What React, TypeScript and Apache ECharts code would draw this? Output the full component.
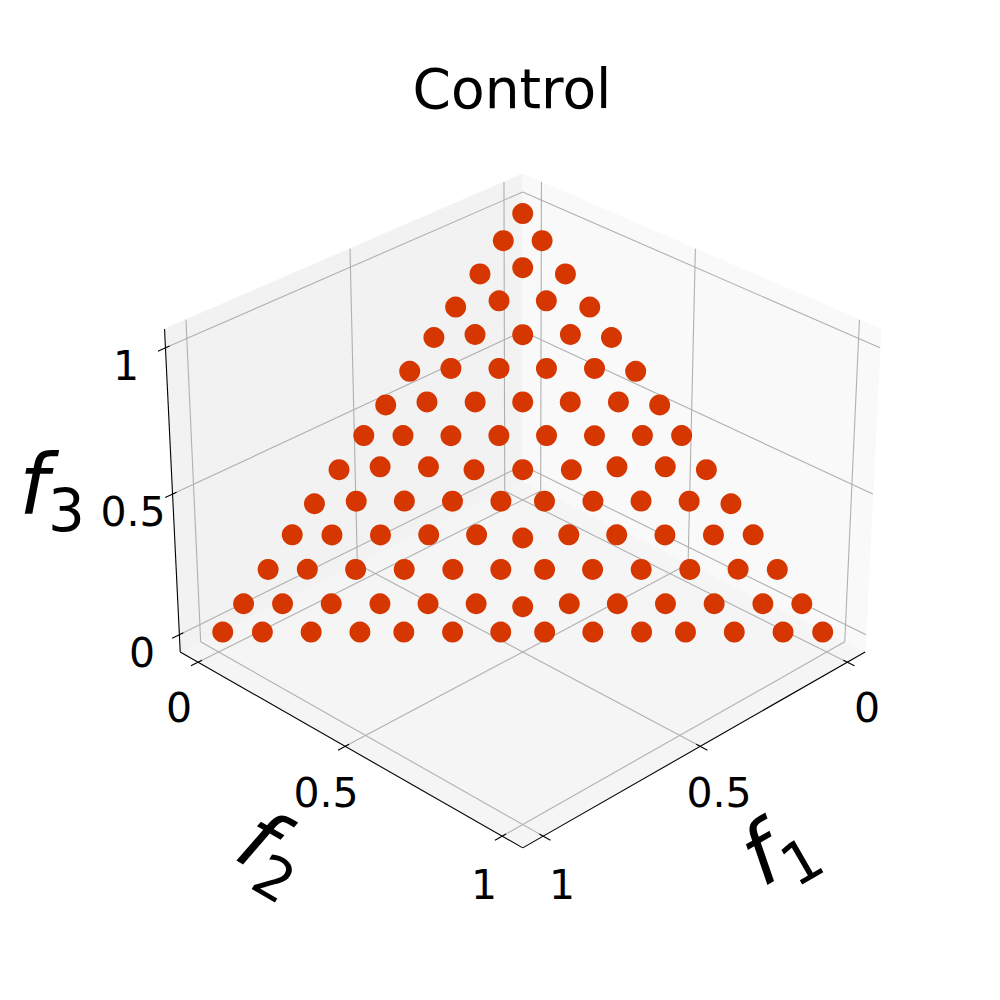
import React, { useEffect, useRef } from "react";
import * as echarts from "echarts";

const titleText = "Control";
const tickValues = [0, 0.5, 1];
const tickLabels = ["0", "0.5", "1"];

// Objective values of each point, one inner list per row of the front (bottom row first)
const f1Rows = [
  [0.989, 0.924, 0.844, 0.764, 0.692, 0.612, 0.533, 0.461, 0.382, 0.302, 0.23, 0.15, 0.07, 0.005],
  [0.923, 0.859, 0.779, 0.699, 0.62, 0.541, 0.468, 0.388, 0.309, 0.23, 0.15, 0.07, 0.006],
  [0.844, 0.779, 0.7, 0.62, 0.54, 0.461, 0.389, 0.31, 0.23, 0.15, 0.07, 0.006],
  [0.765, 0.7, 0.62, 0.54, 0.461, 0.389, 0.309, 0.23, 0.151, 0.071, 0.005],
  [0.693, 0.621, 0.541, 0.462, 0.382, 0.31, 0.23, 0.15, 0.071, 0.005],
  [0.613, 0.542, 0.462, 0.39, 0.309, 0.229, 0.15, 0.07, 0.005],
  [0.533, 0.468, 0.389, 0.309, 0.23, 0.151, 0.071, 0.006],
  [0.461, 0.389, 0.309, 0.23, 0.151, 0.071, 0.006],
  [0.382, 0.31, 0.23, 0.151, 0.071, 0.006],
  [0.302, 0.23, 0.151, 0.071, 0.006],
  [0.23, 0.15, 0.071, 0.006],
  [0.15, 0.071, 0.007],
  [0.071, 0.006],
  [0.006],
];
const f2Rows = [
  [0.005, 0.07, 0.15, 0.23, 0.302, 0.382, 0.461, 0.533, 0.612, 0.692, 0.764, 0.844, 0.924, 0.989],
  [0.006, 0.07, 0.15, 0.23, 0.309, 0.388, 0.468, 0.541, 0.62, 0.699, 0.779, 0.859, 0.923],
  [0.006, 0.07, 0.15, 0.23, 0.31, 0.389, 0.461, 0.54, 0.62, 0.7, 0.779, 0.844],
  [0.005, 0.071, 0.151, 0.23, 0.309, 0.389, 0.461, 0.54, 0.62, 0.7, 0.765],
  [0.005, 0.071, 0.15, 0.23, 0.31, 0.382, 0.462, 0.541, 0.621, 0.693],
  [0.005, 0.07, 0.15, 0.229, 0.309, 0.39, 0.462, 0.542, 0.613],
  [0.006, 0.071, 0.151, 0.23, 0.309, 0.389, 0.468, 0.533],
  [0.006, 0.071, 0.151, 0.23, 0.309, 0.389, 0.461],
  [0.006, 0.071, 0.151, 0.23, 0.31, 0.382],
  [0.006, 0.071, 0.151, 0.23, 0.302],
  [0.006, 0.071, 0.15, 0.23],
  [0.007, 0.071, 0.15],
  [0.006, 0.071],
  [0.006],
];
const f3Rows = [
  [0.006, 0.006, 0.006, 0.006, 0.006, 0.006, 0.006, 0.006, 0.006, 0.006, 0.006, 0.006, 0.006, 0.006],
  [0.071, 0.071, 0.071, 0.071, 0.071, 0.071, 0.064, 0.071, 0.071, 0.071, 0.071, 0.071, 0.071],
  [0.15, 0.15, 0.15, 0.15, 0.15, 0.15, 0.15, 0.15, 0.15, 0.15, 0.15, 0.15],
  [0.23, 0.23, 0.23, 0.23, 0.23, 0.223, 0.23, 0.23, 0.23, 0.23, 0.23],
  [0.302, 0.308, 0.308, 0.308, 0.308, 0.308, 0.308, 0.308, 0.308, 0.302],
  [0.381, 0.388, 0.388, 0.381, 0.381, 0.381, 0.388, 0.388, 0.381],
  [0.461, 0.461, 0.461, 0.461, 0.461, 0.461, 0.461, 0.461],
  [0.533, 0.54, 0.54, 0.54, 0.54, 0.54, 0.533],
  [0.612, 0.619, 0.619, 0.619, 0.619, 0.612],
  [0.692, 0.699, 0.699, 0.699, 0.692],
  [0.764, 0.779, 0.779, 0.764],
  [0.843, 0.858, 0.843],
  [0.922, 0.922],
  [0.987],
];

// 3D view: a small perspective projection into the page's pixel plane
const FONT = "'DejaVu Sans'";
const M = 0.063;
const LO = -M;
const HI = 1 + M;
const project = (f1: number, f2: number, f3: number): number[] => {
  const d = 1 - 0.063 * (f1 + f2 - 1) - 0.039 * f3;
  return [
    522.7 + (304.9 * (f2 - f1)) / d,
    500 + (-17.81 + 152.48 * (f1 + f2) - 280.88 * f3) / d,
  ];
};

type P3 = [number, number, number];
type Seg = [P3, P3];

const panes: { color: string; corners: P3[] }[] = [
  { color: "#f2f2f2", corners: [[LO, LO, LO], [HI, LO, LO], [HI, LO, HI], [LO, LO, HI]] },
  { color: "#f9f9f9", corners: [[LO, LO, LO], [LO, HI, LO], [LO, HI, HI], [LO, LO, HI]] },
  { color: "#f5f5f5", corners: [[LO, LO, LO], [HI, LO, LO], [HI, HI, LO], [LO, HI, LO]] },
];

const gridSegs: Seg[] = tickValues.flatMap((t): Seg[] => [
  [[t, LO, LO], [t, HI, LO]],
  [[LO, t, LO], [HI, t, LO]],
  [[t, LO, LO], [t, LO, HI]],
  [[LO, LO, t], [HI, LO, t]],
  [[LO, t, LO], [LO, t, HI]],
  [[LO, LO, t], [LO, HI, t]],
]);

const TICK_IN = 0.012;
const TICK_OUT = 0.022;
const axisSegs: Seg[] = [
  [[HI, LO, LO], [HI, LO, HI]],
  [[HI, LO, LO], [HI, HI, LO]],
  [[LO, HI, LO], [HI, HI, LO]],
  ...tickValues.flatMap((t): Seg[] => [
    [[t, HI - TICK_IN, LO], [t, HI + TICK_OUT, LO]],
    [[HI - TICK_IN, t, LO], [HI + TICK_OUT, t, LO]],
    [[HI - TICK_IN, LO, t], [HI + TICK_OUT, LO, t]],
  ]),
];

const segSeries = (name: string, segs: Seg[], color: string, width: number) => ({
  type: "custom",
  name,
  silent: true,
  clip: false,
  coordinateSystem: "cartesian2d",
  data: segs.map(() => [0, 0]),
  renderItem: (params: any, api: any) => {
    const [a, b] = segs[params.dataIndex];
    const p = api.coord(project(a[0], a[1], a[2]));
    const q = api.coord(project(b[0], b[1], b[2]));
    return {
      type: "line",
      shape: { x1: p[0], y1: p[1], x2: q[0], y2: q[1] },
      style: { stroke: color, lineWidth: width, fill: "none" },
    };
  },
});

const tickText = (text: string, x: number, y: number) => ({
  type: "text",
  x,
  y,
  style: { text, fontFamily: FONT, fontSize: 41, fill: "#000", textAlign: "center", textVerticalAlign: "middle" },
});

const axisLabel = (sub: string, x: number, y: number, deg: number) => ({
  type: "group",
  x,
  y,
  rotation: (deg * Math.PI) / 180,
  children: [
    {
      type: "text",
      x: 0,
      y: 0,
      style: { text: "f", fontFamily: FONT, fontStyle: "italic", fontSize: 84, fill: "#000", textAlign: "left", textVerticalAlign: "bottom" },
    },
    {
      type: "text",
      x: 29,
      y: 13,
      style: { text: sub, fontFamily: FONT, fontSize: 58, fill: "#000", textAlign: "left", textVerticalAlign: "bottom" },
    },
  ],
});

export default function App() {
  const ref = useRef<HTMLDivElement>(null);
  useEffect(() => {
    const chart = echarts.init(ref.current!, undefined, { renderer: "svg" });
    const points = f1Rows.flatMap((row, r) =>
      row.map((f1, i) => project(f1, f2Rows[r][i], f3Rows[r][i]))
    );
    chart.setOption({
      animation: false,
      backgroundColor: "#fff",
      title: {
        text: titleText,
        left: 507,
        top: 56,
        textAlign: "center",
        textStyle: { fontFamily: FONT, fontSize: 55, fontWeight: "normal", color: "#000" },
      },
      grid: { left: 0, right: 0, top: 0, bottom: 0 },
      xAxis: { type: "value", min: 0, max: 1000, show: false },
      yAxis: { type: "value", min: 0, max: 1000, inverse: true, show: false },
      tooltip: { show: false },
      series: [
        {
          type: "custom",
          name: "panes",
          silent: true,
          clip: false,
          coordinateSystem: "cartesian2d",
          data: panes.map(() => [0, 0]),
          renderItem: (params: any, api: any) => {
            const pane = panes[params.dataIndex];
            return {
              type: "polygon",
              shape: { points: pane.corners.map((c) => api.coord(project(c[0], c[1], c[2]))) },
              style: { fill: pane.color, stroke: pane.color, lineWidth: 1 },
            };
          },
        },
        segSeries("grid", gridSegs, "#b0b0b0", 1.1),
        segSeries("axes", axisSegs, "#000", 1.1),
        {
          type: "scatter",
          name: "Control",
          data: points,
          symbol: "circle",
          symbolSize: 21,
          silent: true,
          clip: false,
          itemStyle: { color: "#d63700", opacity: 1 },
        },
      ],
      graphic: [
        tickText(tickLabels[0], 867, 708),
        tickText(tickLabels[1], 719, 793),
        tickText(tickLabels[2], 562, 885),
        tickText(tickLabels[0], 179, 708),
        tickText(tickLabels[1], 326, 793),
        tickText(tickLabels[2], 484, 885),
        tickText(tickLabels[2], 126, 366),
        tickText(tickLabels[1], 133, 512),
        tickText(tickLabels[0], 142, 653),
        axisLabel("3", 19, 527, 0),
        axisLabel("1", 769, 899, 30),
        axisLabel("2", 225, 869, -30),
      ],
    });
    return () => chart.dispose();
  }, []);
  return (
    <div style={{ position: "fixed", left: 0, top: 0, width: 1000, height: 1000 }}>
      <div ref={ref} style={{ width: 1000, height: 1000 }} />
    </div>
  );
}
